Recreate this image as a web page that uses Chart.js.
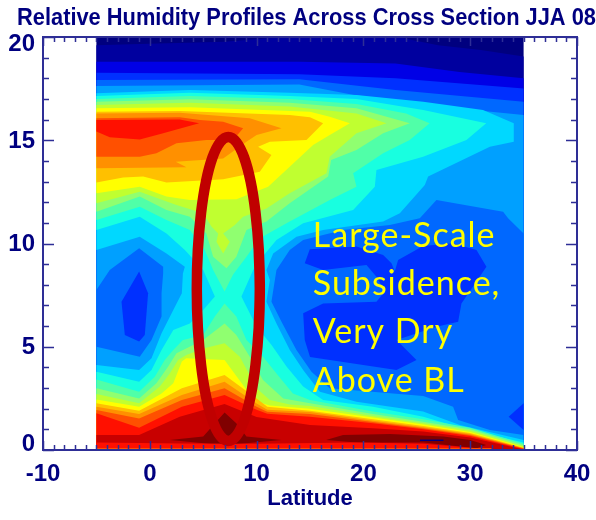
<!DOCTYPE html>
<html>
<head>
<meta charset="utf-8">
<script src="https://cdn.jsdelivr.net/npm/chart.js@4"></script>
<style>
  html, body { margin: 0; padding: 0; background: #fff; }
  canvas { display: block; }
</style>
</head>
<body>
<canvas id="chart" width="596" height="520"></canvas>
<script>
// Contours are [latitude, height km], lowest humidity first
const colors = ['#00007f', '#00009f', '#0000e6', '#0030ff', '#0068ff', '#00a0ff', '#00d8ff', '#18ffe0', '#50ffa8',
  '#90ff70', '#c0ff30', '#ffff00', '#ffc000', '#ff9000', '#ff5000', '#ff1000', '#c80000', '#800000'];

const ceiling1 = [[-5,19.6],[-1,19.66],[7,19.77],[11,19.94],[15,20.02],[23,20.02],[27,19.6],[31,19.37],[35,19.05]];
const ceiling2 = [[-5,18.8],[14,18.8],[23,18.72],[29,18.3],[35,18]];
const ceiling3 = [[-5,18.27],[14,18.2],[23,18],[35,17.51]];
const ceiling4 = [[-5,17.92],[14,17.95],[23,17.43],[35,16.87]];
const ceiling5 = [[-5,17.63],[14,17.7],[19,17.2],[27,16.63],[35,16.22]];

const dryLeft = [[-5,7.75],[-3.75,8.72],[-1,9.77],[1.25,8.88],[1.25,8.55],[1.1,7.59],[1.1,6.46],[0.16,5.33],[-0.94,4.52],[-5,5]];
const dryRight = [[26.84,12.11],[33.08,11.54],[33.55,11.22],[35,10.49],[35,0.73],[31.84,0.97],[28.87,1.45],[28.4,2.1],[25.6,2.62],[16.85,2.99],[15.14,3.79],[13.73,4.84],[12.33,6.21],[11.39,7.18],[11.86,8.72],[13.1,9.69],[14.36,10.17],[18.1,10.65],[22.47,10.9],[25.28,11.22]];
const driestLeft = [[-1,8.64],[-2.65,7.18],[-2.34,5.57],[-1,5.25],[-0.47,5.57],[-0.16,7.59]];
const driestRight = [[14.36,6.62],[16.23,7.1],[21.22,7.18],[22,7.67],[21.22,8.39],[20.29,8.96],[16.23,8.72],[14.51,9.04],[14.98,9.72],[19.35,9.85],[21.85,9.44],[22.63,9.04],[22.94,8.64],[23.25,9.2],[25.59,9.88],[28.4,10.01],[30.59,9.69],[31.52,8.88],[29.18,7.1],[28.87,6.21],[26.84,5.97],[23.1,5.33],[24.97,4.36],[23.1,3.87],[15,4.5],[14.51,5.33]];
const driestEdge = [[35,2.26],[33.6,1.61],[35,0.97]];

const band6 = [[-5,17.27],[3.75,17.43],[13.1,17.3],[19.35,17.19],[25.6,16.87],[31.2,16.47],[34.08,15.82],[34.08,14.93],[31.84,14.69],[26.06,13.24],[25.75,12.83],[23.41,11.46],[21.85,11.06],[16.23,10.65],[13.73,10.33],[11.55,9.52],[10.92,8.72],[11.24,8.23],[10.92,7.18],[11.86,6.13],[13.11,4.84],[14.36,3.87],[15.92,2.82],[19.35,2.34],[25.59,1.86],[29.03,1.21],[35,0.48],[35,0],[-5,0],[-5,4.12],[-1,3.87],[0.16,4.44],[1.1,5.65],[2.2,6.78],[3,7.59],[3.1,8.55],[3.28,8.88],[1.56,9.52],[-0.94,10.33],[-5,9.69]];
const band7 = [[-5,17.14],[3.75,17.3],[13.1,17.14],[19.35,17],[25.6,16.47],[31.5,15.82],[29.65,15.01],[25.59,14.2],[21.22,13.56],[21.07,12.75],[19.04,11.62],[14.36,10.98],[11.86,10.17],[10.3,9.2],[9.68,8.72],[8.58,7.43],[8.9,7.1],[10,5.97],[11.4,5.08],[12.8,4.04],[14.36,3.07],[16.23,2.42],[20.9,2.1],[25.6,1.61],[29.3,1.05],[35,0.36],[35,0],[-5,0],[-5,3.79],[-1,3.31],[0.16,3.87],[1.1,4.84],[2.2,5.81],[3.75,6.13],[5,6.78],[6.09,7.43],[5,8.72],[3.28,9.69],[1.56,10.49],[-0.94,11.3],[-5,10.65]];

const upper8 = [[-5,17],[3.75,17.14],[13.1,17],[19.35,16.76],[24,16.3],[26.2,15.82],[24.34,15.01],[21.85,14.37],[19.04,13.4],[19.35,12.75],[16.85,12.11],[12.8,10.98],[10.3,10.25],[9.05,9.36],[7.8,8.5],[7,7.67],[5.93,8.72],[5.15,9.69],[3.75,10.65],[1.56,11.14],[-0.94,11.78],[-5,11.14]];
const upper9 = [[-5,16.87],[3.75,16.98],[13.1,16.82],[19.35,16.55],[24.34,15.82],[21.85,15.34],[19.35,14.53],[16.98,14.04],[16.7,13.24],[13.1,11.95],[10.92,11.06],[9.05,10.65],[8.1,9.36],[7.18,8.8],[5.93,9.36],[5.3,10.49],[3.75,11.3],[1.56,11.62],[-0.94,12.27],[-5,11.54]];
const upper10 = [[-5,16.71],[3.75,16.82],[13.1,16.63],[19.35,16.3],[22.16,15.82],[19.35,15.34],[16.85,14.2],[16.54,13.4],[13.1,12.43],[10.92,11.7],[8.74,11.3],[7.96,10.9],[6.87,10.49],[7.49,10.09],[6.87,9.52],[6.24,10.09],[6.4,10.49],[5.77,10.82],[5,11.46],[2.5,11.86],[-0.94,12.51],[-5,11.95]];
const upper11 = [[-5,16.55],[3.75,16.6],[15,16.38],[16.85,16.14],[18.73,15.82],[16.85,15.25],[15.29,14.77],[13.1,13.72],[11.08,12.75],[8.11,12.14],[3.75,12.11],[1.56,12.27],[-0.94,12.75],[-5,12.43]];
const upper12 = [[-5,16.38],[2.8,16.42],[13.1,16.22],[15,16.11],[16.23,15.82],[14.67,15.01],[11.24,14.93],[10.14,14.69],[11.39,14.29],[10.3,13.48],[6.87,13.11],[1.56,12.95],[-0.62,13.24],[-2.5,13.2],[-5,12.95]];
const upper13 = [[-5,16.3],[2.8,16.33],[9.36,16.06],[12.33,15.58],[10,15.25],[9.05,14.93],[6.87,14.12],[2.43,13.96],[3.43,13.69],[-5,13.64]];
const upper14 = [[-5,16.06],[2.8,16.11],[4.7,15.98],[6.87,15.9],[8.74,15.58],[7.8,15.01],[5.3,15.01],[2.5,14.85],[0.62,14.37],[-0.94,14.2],[-5,14.2]];
const upper15 = [[-5,15.98],[2.8,16.01],[4.62,15.82],[1.25,15.34],[-0.94,15.04],[-3.75,15.14],[-5,15.42]];

const lower8 = [[-5,3.42],[-1,2.82],[0.47,3.55],[1.4,4.36],[2.2,4.84],[3.1,5.33],[5,5.57],[6.09,6.46],[7,7.1],[8.1,6.46],[9.05,5.33],[10.6,4.52],[11.86,3.71],[13.4,2.74],[15,2.42],[20.9,1.86],[25.6,1.49],[30,1.08],[35,0.3]];
const lower9 = [[-5,2.99],[-1,2.5],[0.62,3.23],[1.72,4.04],[2.5,4.68],[5,5.33],[7,6.13],[8.1,5.57],[9.36,4.52],[10.6,3.39],[12.5,2.5],[15,2.26],[20.9,1.74],[25.6,1.37],[30,1],[35,0.24]];
const lower10 = [[-5,2.71],[-1,2.26],[0.94,3.07],[1.87,3.71],[2.65,4.36],[3.43,4.6],[5,4.92],[7,5.17],[8.43,4.52],[10,2.99],[11.24,2.42],[13.1,2.2],[15,2.13],[20.9,1.65],[25.6,1.29],[30,0.94],[35,0.18]];
const lower11 = [[-5,2.45],[-1,2.1],[1.1,2.74],[2.2,3.23],[3,4.28],[3.4,4.44],[7,4.36],[9,2.95],[10.3,2.3],[11.24,2.15],[15,2],[20.9,1.57],[25.6,1.23],[30,0.87],[35,0.14]];
const lower12 = [[-5,2.26],[-1,1.9],[3,2.99],[7,3.63],[10,2.5],[11,2.1],[15,1.9],[20.9,1.49],[25.6,1.16],[30,0.82],[35,0.11]];
const lower13 = [[-5,2.1],[-1,1.74],[3,2.66],[7,3.31],[10,2.25],[11,1.95],[15,1.84],[20.9,1.42],[25.6,1.1],[30,0.77],[35,0.09]];
const lower14 = [[-5,1.94],[-1,1.53],[3,2.42],[7,2.99],[10,2.1],[11,1.85],[15,1.74],[20.9,1.36],[25.6,1.05],[30,0.73],[35,0.07]];
const lower15 = [[-5,1.78],[-1,1.08],[3,2.1],[7,2.66],[10,1.95],[11,1.75],[15,1.61],[20.9,1.29],[25.6,1],[30,0.68],[35,0.05]];
const lower16 = [[-5,0.73],[-1,0.73],[2.8,1.61],[7,2.23],[10,1.6],[10.92,1.53],[15,1.21],[20.9,1.05],[25.6,0.89],[30,0.6],[35,0.03]];
const wedge17 = [[1.87,0.48],[5,0.65],[7,1.81],[8.1,1.29],[9.05,0.65],[12.33,0.48],[7,0.23]];
const wedge17b = [[16.5,0.48],[18.1,0.73],[22.5,0.77],[27.5,0.65],[30,0.48],[31.5,0.24],[30.6,0.08],[25.6,0.36],[19.35,0.36]];
const surfaceRed = [[-5,0.36],[-1,0.34],[3,0.32],[10,0.3],[19.35,0.36],[25.6,0.3],[30.6,0.08],[33,0],[-5,0]];
const surfaceOrange = [[-5,0.1],[32,0.1],[32,0],[-5,0]];
const strayDash = [[25.3,0.47],[27.5,0.47]];

const ellipse = [[10.2,9.7],[10.3,7.8],[10.2,5.9],[9.9,4.12],[9.44,2.6],[8.83,1.43],[8.11,0.69],[7.35,0.44],[6.59,0.69],[5.87,1.43],[5.26,2.6],[4.8,4.12],[4.5,5.9],[4.4,7.8],[4.5,9.7],[4.8,11.48],[5.26,13],[5.87,14.17],[6.59,14.91],[7.35,15.16],[8.11,14.91],[8.83,14.17],[9.44,13],[9.9,11.48],[10.2,9.7],[10.3,7.8],[10.2,5.9]];

const noteLines = ['Large-Scale', 'Subsidence,', 'Very Dry', 'Above BL'];
const noteHeights = [9.83, 7.51, 5.18, 2.81];
const noteLat = 15.26;

const navy = '#000080';
const axisColor = '#2e2e96';

function toGround(top) {
  return top.concat([[35, 0], [-5, 0]]);
}

// painter's order, later layers cover earlier ones
const layers = [
  [0, toGround([[-5,20.02],[35,20.02]])],
  [1, toGround(ceiling1)], [2, toGround(ceiling2)], [3, toGround(ceiling3)], [4, toGround(ceiling4)], [5, toGround(ceiling5)],
  [4, dryLeft], [4, dryRight], [3, driestLeft], [3, driestRight], [3, driestEdge],
  [6, band6], [7, band7],
  [8, upper8], [8, toGround(lower8)],
  [9, upper9], [9, toGround(lower9)],
  [10, upper10], [10, toGround(lower10)],
  [11, upper11], [11, toGround(lower11)],
  [12, upper12], [12, toGround(lower12)],
  [13, upper13], [13, toGround(lower13)],
  [14, upper14], [14, toGround(lower14)],
  [15, upper15], [15, toGround(lower15)],
  [16, toGround(lower16)],
  [17, wedge17], [17, wedge17b],
  [15, surfaceRed], [14, surfaceOrange]
];

const datasets = layers.map(([lvl, pts], i) => ({
  data: pts.map(p => ({ x: p[0], y: p[1] })).concat([{ x: pts[0][0], y: pts[0][1] }]),
  showLine: true,
  fill: 'shape',
  backgroundColor: colors[lvl],
  borderWidth: 0,
  pointRadius: 0,
  order: layers.length - i + 2
}));

datasets.push({
  data: strayDash.map(p => ({ x: p[0], y: p[1] })),
  showLine: true,
  fill: false,
  borderColor: navy,
  borderWidth: 1.5,
  pointRadius: 0,
  order: 1
});

datasets.push({
  data: ellipse.map(p => ({ x: p[0], y: p[1] })),
  showLine: true,
  fill: false,
  borderColor: '#c00000',
  borderWidth: 10.5,
  tension: 0.4,
  pointRadius: 0,
  clip: false,
  order: 0
});

// IDL style frame: inward ticks on all four sides, y labels pulled in at the ends
const idlFrame = {
  id: 'idlFrame',
  afterDatasetsDraw(chart) {
    const { ctx, chartArea: a, scales: { x, y } } = chart;
    ctx.save();
    ctx.strokeStyle = axisColor;
    ctx.lineWidth = 2;
    ctx.strokeRect(a.left, a.top, a.right - a.left, a.bottom - a.top);
    ctx.beginPath();
    x.ticks.forEach(t => {
      const px = Math.round(x.getPixelForValue(t.value)) + 0.5;
      const len = t.value % 10 === 0 ? 9 : 5;
      ctx.moveTo(px, a.bottom); ctx.lineTo(px, a.bottom - len);
      ctx.moveTo(px, a.top); ctx.lineTo(px, a.top + len);
    });
    y.ticks.forEach(t => {
      const py = Math.round(y.getPixelForValue(t.value)) + 0.5;
      const len = t.value % 5 === 0 ? 11 : 6;
      ctx.moveTo(a.left, py); ctx.lineTo(a.left + len, py);
      ctx.moveTo(a.right, py); ctx.lineTo(a.right - len, py);
    });
    ctx.lineWidth = 1.5;
    ctx.stroke();

    ctx.fillStyle = navy;
    ctx.font = 'bold 24px "Liberation Sans"';
    ctx.textAlign = 'right';
    ctx.textBaseline = 'middle';
    y.ticks.forEach(t => {
      if (t.value % 5 !== 0) return;
      const nudge = t.value === 20 ? 6 : t.value === 0 ? -7 : 0;
      ctx.fillText(String(t.value), a.left - 8, y.getPixelForValue(t.value) + nudge + 1);
    });

    ctx.fillStyle = '#ffff00';
    ctx.font = '34px Lato';
    ctx.letterSpacing = '1px';
    ctx.textAlign = 'left';
    ctx.textBaseline = 'alphabetic';
    noteLines.forEach((line, i) => {
      ctx.fillText(line, x.getPixelForValue(noteLat), y.getPixelForValue(noteHeights[i]));
    });
    ctx.restore();
  }
};

new Chart(document.getElementById('chart'), {
  type: 'scatter',
  plugins: [idlFrame],
  data: { datasets },
  options: {
    responsive: false,
    animation: false,
    layout: { padding: { left: 17 } },
    scales: {
      x: {
        type: 'linear',
        min: -10,
        max: 40,
        afterFit: s => { s.height = 70; s.paddingLeft = 0; s.paddingRight = 0; },
        grid: { display: false },
        border: { display: false },
        ticks: {
          stepSize: 1,
          autoSkip: false,
          maxRotation: 0,
          padding: 2,
          color: navy,
          font: { family: 'Liberation Sans', size: 24, weight: 'bold' },
          callback: v => (v % 10 === 0 ? String(v) : '')
        },
        title: {
          display: true,
          text: 'Latitude',
          color: navy,
          font: { family: 'Liberation Sans', size: 22, weight: 'bold' },
          padding: { top: 0, bottom: 8 }
        }
      },
      y: {
        min: 0,
        max: 20,
        afterFit: s => { s.width = 26; },
        grid: { display: false },
        border: { display: false },
        ticks: { display: false, stepSize: 1 }
      },
      yRight: {
        position: 'right',
        min: 0,
        max: 20,
        afterFit: s => { s.width = 19; },
        grid: { display: false },
        border: { display: false },
        ticks: { display: false }
      }
    },
    plugins: {
      legend: { display: false },
      tooltip: { enabled: false },
      title: {
        display: true,
        text: 'Relative Humidity Profiles Across Cross Section JJA 08',
        align: 'start',
        color: navy,
        font: { family: 'Liberation Sans', size: 23.5, weight: 'bold' },
        padding: { top: 4.4, bottom: 4.4 }
      }
    }
  }
});
</script>
</body>
</html>
